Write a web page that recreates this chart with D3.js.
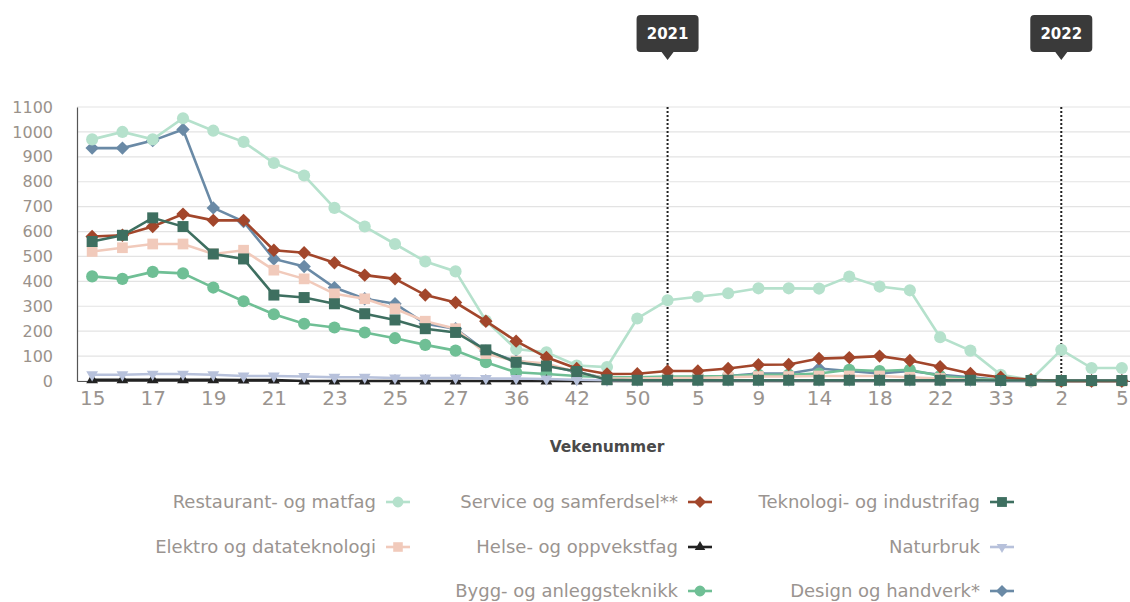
<!DOCTYPE html>
<html>
<head>
<meta charset="utf-8">
<script src="https://cdn.jsdelivr.net/npm/d3@7"></script>
<style>
  body { margin: 0; background: #fff; }
  svg { display: block; font-family: "DejaVu Sans", sans-serif; }
</style>
</head>
<body>
<svg id="chart" width="1130" height="602"></svg>
<script>
// week numbers along the x axis (only every second one is labelled)
const weeks = ["15","16","17","18","19","20","21","22","23","24","25","26","27","32","36","39","42","46","50","1",
               "5","7","9","12","14","16","18","20","22","26","33","37","2","3","5"];

const restaurant = [970,1000,970,1055,1005,960,875,825,695,620,550,480,440,242,128,115,62,56,251,324,
                    338,352,372,372,371,419,379,364,176,122,25,5,125,52,52];
const service    = [580,585,620,670,645,645,525,515,475,425,410,345,315,240,160,95,50,28,29,40,
                    40,50,65,66,90,94,100,82,57,30,15,5,0,0,0];
const teknologi  = [560,585,655,620,510,490,345,335,310,270,245,210,195,125,75,60,38,5,3,3,
                    3,3,3,3,3,3,3,3,3,3,2,2,2,2,2];
const elektro    = [520,535,550,550,510,525,445,410,350,330,290,240,210,110,80,70,35,10,10,12,
                    12,15,18,18,20,20,20,15,10,5,2,0,0,0,0];
const helse      = [5,5,5,5,5,4,4,0,0,0,0,0,0,0,0,0,0,0,0,0,
                    0,0,0,0,0,0,0,0,0,0,0,0,0,0,0];
const naturbruk  = [25,25,28,28,25,20,20,18,15,15,12,12,12,10,10,8,5,3,3,3,
                    3,3,3,3,3,3,3,3,3,2,0,0,0,0,0];
const bygg       = [420,410,438,432,375,320,268,230,215,195,172,145,122,75,35,28,20,15,15,18,
                    18,20,25,25,30,45,40,45,20,10,5,0,0,0,0];
const design     = [935,935,965,1010,695,640,490,460,375,330,310,230,210,120,80,65,35,10,10,15,
                    15,20,30,30,50,40,30,40,25,15,5,0,0,0,0];

// legend order (filled right to left, like the original)
const legendOrder = ["Teknologi- og industrifag","Service og samferdsel**","Restaurant- og matfag",
                     "Naturbruk","Helse- og oppvekstfag","Elektro og datateknologi",
                     "Design og handverk*","Bygg- og anleggsteknikk"];
const yearMarks = [{ label: "2021", index: 19 }, { label: "2022", index: 32 }];

const diamond = {
    draw(ctx, size) {
        const r = Math.sqrt(size / 2);
        ctx.moveTo(0, -r); ctx.lineTo(r, 0); ctx.lineTo(0, r); ctx.lineTo(-r, 0); ctx.closePath();
    }
};

// drawn bottom to top
const series = [
    { name: "Design og handverk*", values: design, color: "#6a8aa6", symbol: diamond, size: 90 },
    { name: "Bygg- og anleggsteknikk", values: bygg, color: "#6fbf95", symbol: d3.symbolCircle, size: 115 },
    { name: "Elektro og datateknologi", values: elektro, color: "#f1cabb", symbol: d3.symbolSquare, size: 115 },
    { name: "Helse- og oppvekstfag", values: helse, color: "#222222", symbol: d3.symbolTriangle, size: 60 },
    { name: "Naturbruk", values: naturbruk, color: "#b7c1db", symbol: d3.symbolTriangle, size: 60, flip: true },
    { name: "Restaurant- og matfag", values: restaurant, color: "#b5e1cc", symbol: d3.symbolCircle, size: 115 },
    { name: "Service og samferdsel**", values: service, color: "#a2462b", symbol: diamond, size: 90 },
    { name: "Teknologi- og industrifag", values: teknologi, color: "#3e6f60", symbol: d3.symbolSquare, size: 121 }
];

const margin = { top: 107, left: 77, bottom: 221, right: -7 };
const width = 1130, height = 602;

const svg = d3.select("#chart");

const x = d3.scalePoint()
    .domain(d3.range(weeks.length))
    .range([margin.left, width - margin.right])
    .padding(0.5);

const y = d3.scaleLinear()
    .domain([0, 1100])
    .range([height - margin.bottom, margin.top]);

// grid
svg.append("g")
    .selectAll("line")
    .data(y.ticks(11))
    .join("line")
    .attr("x1", margin.left)
    .attr("x2", width)
    .attr("y1", d => y(d))
    .attr("y2", d => y(d))
    .attr("stroke", "#e3e3e3")
    .attr("stroke-width", 1.2);

// y axis
const yAxis = svg.append("g")
    .attr("transform", `translate(${margin.left},0)`)
    .call(d3.axisLeft(y).ticks(11).tickFormat(d3.format("d")).tickSize(0).tickPadding(24));
yAxis.select(".domain").attr("stroke", "#555").attr("stroke-width", 1.2);
yAxis.selectAll("text")
    .attr("font-size", 16)
    .attr("font-family", "DejaVu Sans, sans-serif")
    .attr("fill", "#9a928b");

// x axis
const xAxis = svg.append("g")
    .attr("transform", `translate(0,${y(0)})`)
    .call(d3.axisBottom(x).tickSize(0).tickPadding(10)
        .tickFormat(i => i % 2 === 0 ? weeks[i] : ""));
xAxis.select(".domain").attr("stroke", "#555").attr("stroke-width", 1.2);
xAxis.selectAll("text")
    .attr("font-size", 20)
    .attr("font-family", "DejaVu Sans, sans-serif")
    .attr("fill", "#9a948f");

svg.append("text")
    .attr("x", 607)
    .attr("y", 452)
    .attr("text-anchor", "middle")
    .attr("font-size", 15.5)
    .attr("font-weight", "bold")
    .attr("fill", "#4a4a4a")
    .text("Vekenummer");

// year plot lines
yearMarks.forEach(m => {
    svg.append("line")
        .attr("x1", x(m.index)).attr("x2", x(m.index))
        .attr("y1", y(1100)).attr("y2", y(0))
        .attr("stroke", "#222")
        .attr("stroke-width", 2)
        .attr("stroke-dasharray", "2,2");
});

// lines and markers
const line = d3.line()
    .x((d, i) => x(i))
    .y(d => y(d));

series.forEach(s => {
    const g = svg.append("g");
    g.append("path")
        .attr("d", line(s.values))
        .attr("fill", "none")
        .attr("stroke", s.color)
        .attr("stroke-width", 2.6);
    g.selectAll("path.marker")
        .data(s.values)
        .join("path")
        .attr("class", "marker")
        .attr("d", d3.symbol(s.symbol, s.size))
        .attr("transform", (d, i) => `translate(${x(i)},${y(d)})` + (s.flip ? " rotate(180)" : ""))
        .attr("fill", s.color);
});

// year labels (tooltip-like boxes)
yearMarks.forEach(m => {
    const cx = x(m.index);
    const g = svg.append("g").attr("transform", `translate(${cx},0)`);
    g.append("path")
        .attr("d", "M-27,15 Q-31,15 -31,19 L-31,48 Q-31,52 -27,52 L-6,52 L0,60 L6,52 L27,52 Q31,52 31,48 L31,19 Q31,15 27,15 Z")
        .attr("fill", "#3a3a3a");
    g.append("text")
        .attr("y", 39)
        .attr("text-anchor", "middle")
        .attr("font-size", 15)
        .attr("font-weight", "bold")
        .attr("fill", "#fff")
        .text(m.label);
});

// legend: three columns, right aligned, filled from the right
const legendCols = [1002, 700, 398];
const legendRows = [502, 547, 591];
legendOrder.forEach((name, k) => {
    const s = series.find(d => d.name === name);
    const cx = legendCols[k % 3];
    const cy = legendRows[Math.floor(k / 3)];
    const g = svg.append("g").attr("transform", `translate(${cx},${cy})`);
    g.append("line")
        .attr("x1", -12).attr("x2", 12)
        .attr("stroke", s.color)
        .attr("stroke-width", 2.6);
    g.append("path")
        .attr("d", d3.symbol(s.symbol, s.size * 0.8))
        .attr("transform", s.flip ? "rotate(180)" : null)
        .attr("fill", s.color);
    g.append("text")
        .attr("x", -22)
        .attr("y", 6)
        .attr("text-anchor", "end")
        .attr("font-size", 18)
        .attr("fill", "#9a9490")
        .text(name);
});
</script>
</body>
</html>
